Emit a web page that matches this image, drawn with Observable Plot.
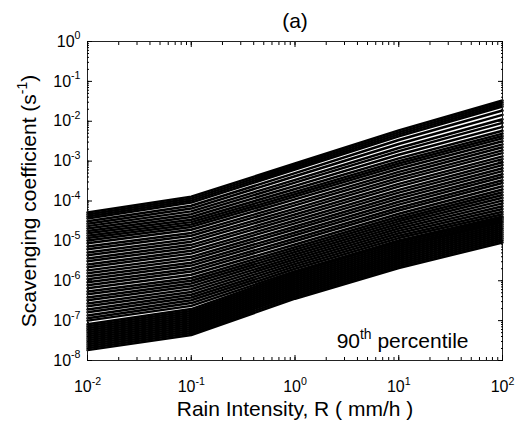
<!DOCTYPE html>
<html>
<head>
<meta charset="utf-8">
<script src="https://cdn.jsdelivr.net/npm/d3@7"></script>
<script src="https://cdn.jsdelivr.net/npm/@observablehq/plot@0.6"></script>
<style>
  html, body { margin: 0; padding: 0; background: #fff; }
</style>
</head>
<body>
<div id="chart"></div>
<script>
// Rain intensity columns (mm/h) at which each curve is read
const rainIntensity = [0.01, 0.1, 1, 10, 100];

// log10 of scavenging coefficient (s^-1), one entry per curve, read at each rain intensity
const expAtR0_01 = [-4.29,-4.34,-4.39,-4.44,-4.51,-4.57,-4.63,-4.69,-4.75,-4.81,-4.87,-4.93,-4.99,-5.06,-5.14,-5.21,-5.29,-5.36,-5.44,-5.51,-5.59,-5.66,-5.74,-5.81,-5.89,-5.96,-6.04,-6.11,-6.19,-6.27,-6.34,-6.42,-6.49,-6.57,-6.64,-6.72,-6.79,-6.87,-6.94,-7.00,-7.09,-7.14,-7.19,-7.24,-7.29,-7.34,-7.39,-7.44,-7.49,-7.54,-7.59,-7.64,-7.69,-7.74];
const expAtR0_1  = [-3.89,-3.94,-3.99,-4.04,-4.12,-4.19,-4.26,-4.33,-4.40,-4.47,-4.53,-4.59,-4.65,-4.72,-4.80,-4.87,-4.95,-5.02,-5.10,-5.17,-5.25,-5.32,-5.40,-5.47,-5.55,-5.62,-5.70,-5.77,-5.85,-5.93,-6.00,-6.07,-6.14,-6.21,-6.28,-6.35,-6.42,-6.49,-6.56,-6.63,-6.71,-6.76,-6.81,-6.86,-6.91,-6.96,-7.01,-7.06,-7.11,-7.16,-7.21,-7.26,-7.31,-7.36];
const expAtR1    = [-3.06,-3.11,-3.16,-3.21,-3.30,-3.38,-3.47,-3.54,-3.62,-3.70,-3.77,-3.83,-3.89,-3.96,-4.04,-4.11,-4.19,-4.26,-4.34,-4.41,-4.49,-4.56,-4.64,-4.71,-4.79,-4.86,-4.94,-5.01,-5.09,-5.16,-5.22,-5.28,-5.34,-5.40,-5.46,-5.52,-5.58,-5.64,-5.70,-5.76,-5.80,-5.85,-5.90,-5.95,-6.00,-6.05,-6.10,-6.15,-6.20,-6.25,-6.30,-6.35,-6.40,-6.45];
const expAtR10   = [-2.23,-2.28,-2.33,-2.38,-2.47,-2.57,-2.67,-2.75,-2.84,-2.93,-3.00,-3.06,-3.12,-3.19,-3.27,-3.34,-3.42,-3.49,-3.57,-3.64,-3.72,-3.79,-3.87,-3.94,-4.02,-4.09,-4.17,-4.24,-4.32,-4.39,-4.45,-4.51,-4.57,-4.63,-4.69,-4.75,-4.81,-4.87,-4.93,-4.99,-5.03,-5.08,-5.13,-5.18,-5.23,-5.28,-5.33,-5.38,-5.43,-5.48,-5.53,-5.58,-5.63,-5.68];
const expAtR100  = [-1.48,-1.53,-1.58,-1.63,-1.73,-1.84,-1.95,-2.04,-2.14,-2.24,-2.31,-2.37,-2.43,-2.50,-2.58,-2.65,-2.73,-2.80,-2.88,-2.95,-3.03,-3.10,-3.18,-3.25,-3.33,-3.40,-3.48,-3.55,-3.63,-3.71,-3.78,-3.85,-3.92,-3.99,-4.06,-4.13,-4.20,-4.27,-4.33,-4.39,-4.42,-4.46,-4.50,-4.54,-4.59,-4.64,-4.69,-4.74,-4.79,-4.84,-4.89,-4.94,-4.99,-5.04];

// Axis ticks and labels
const xTickValues = [0.01, 0.1, 1, 10, 100];
const xTickLabels = ["10{-2}", "10{-1}", "10{0}", "10{1}", "10{2}"];
const yTickValues = [1e-8, 1e-7, 1e-6, 1e-5, 1e-4, 1e-3, 1e-2, 1e-1, 1];
const yTickLabels = ["10{-8}", "10{-7}", "10{-6}", "10{-5}", "10{-4}", "10{-3}", "10{-2}", "10{-1}", "10{0}"];

const titleText = "(a)";
const xLabel = "Rain Intensity, R ( mm/h )";
const yLabel = "Scavenging coefficient (s{-1})";
const noteText = "90{th} percentile";

// Build the long table
const columns = [expAtR0_01, expAtR0_1, expAtR1, expAtR10, expAtR100];
const rows = [];
for (let i = 0; i < expAtR0_01.length; i++) {
  columns.forEach((col, j) => rows.push({id: i, R: rainIntensity[j], k: Math.pow(10, col[i])}));
}

const xMinor = d3.scaleLog().domain([0.01, 100]).ticks();
const yMinor = d3.scaleLog().domain([1e-8, 1]).ticks();
const blank = () => "";

const chart = Plot.plot({
  width: 516,
  height: 424,
  marginLeft: 87,
  marginRight: 14,
  marginTop: 41,
  marginBottom: 64,
  style: {fontFamily: "'Liberation Sans', Arial, sans-serif", fontSize: "16px", background: "#fff", color: "#000"},
  x: {type: "log", domain: [0.01, 100]},
  y: {type: "log", domain: [1e-8, 1]},
  marks: [
    Plot.line(rows, {x: "R", y: "k", z: "id", stroke: "#000", strokeWidth: 2.5}),
    Plot.frame({stroke: "#222", strokeWidth: 1}),
    // minor ticks, inward, all four sides
    Plot.axisX({anchor: "bottom", ticks: xMinor, tickSize: -3, tickFormat: blank, label: null}),
    Plot.axisX({anchor: "top", ticks: xMinor, tickSize: -3, tickFormat: blank, label: null}),
    Plot.axisY({anchor: "left", ticks: yMinor, tickSize: -2, tickFormat: blank, label: null}),
    Plot.axisY({anchor: "right", ticks: yMinor, tickSize: -2, tickFormat: blank, label: null}),
    // major ticks, inward
    Plot.axisX({anchor: "bottom", ticks: xTickValues, tickSize: -5, tickFormat: blank, label: null}),
    Plot.axisX({anchor: "top", ticks: xTickValues, tickSize: -5, tickFormat: blank, label: null}),
    Plot.axisY({anchor: "left", ticks: yTickValues, tickSize: -5, tickFormat: blank, label: null}),
    Plot.axisY({anchor: "right", ticks: yTickValues, tickSize: -5, tickFormat: blank, label: null}),
    // tick labels
    Plot.axisX({anchor: "bottom", ticks: xTickValues, tickSize: 0, tickPadding: 20, fontSize: 16,
      tickFormat: (d) => xTickLabels[xTickValues.indexOf(d)], label: null}),
    Plot.axisY({anchor: "left", ticks: yTickValues, tickSize: 0, tickPadding: 7, fontSize: 16,
      tickFormat: (d) => yTickLabels[yTickValues.indexOf(d)], label: null}),
    // texts
    Plot.text([titleText], {text: (d) => d, frameAnchor: "top", lineAnchor: "middle", dy: -20, fontSize: 21}),
    Plot.text([xLabel], {text: (d) => d, frameAnchor: "bottom", lineAnchor: "middle", dy: 49, fontSize: 21}),
    Plot.text([yLabel], {text: (d) => d, frameAnchor: "left", textAnchor: "middle", lineAnchor: "middle", dx: -58, rotate: -90, fontSize: 21}),
    Plot.text([noteText], {text: (d) => d, frameAnchor: "bottom-right", textAnchor: "end", lineAnchor: "middle", dx: -34, dy: -19, fontSize: 21})
  ]
});

document.getElementById("chart").appendChild(chart);

// Remove empty tick-label texts left by the tick-only axes
chart.querySelectorAll("text").forEach((t) => { if (t.textContent === "") t.remove(); });

// Render {..} segments as superscripts
const SVGNS = "http://www.w3.org/2000/svg";
chart.querySelectorAll("text").forEach((t) => {
  const s = t.textContent;
  if (!s.includes("{")) return;
  const fs = parseFloat(getComputedStyle(t).fontSize) || 16;
  while (t.firstChild) t.removeChild(t.firstChild);
  const parts = s.split(/(\{[^}]*\})/).filter((p) => p.length);
  const shift = fs * 0.45;
  let raised = false;
  parts.forEach((p) => {
    const ts = document.createElementNS(SVGNS, "tspan");
    if (p.startsWith("{")) {
      ts.textContent = p.slice(1, -1);
      ts.setAttribute("font-size", (fs * 0.66).toFixed(1));
      ts.setAttribute("dy", (-shift).toFixed(1));
      raised = true;
    } else {
      ts.textContent = p;
      if (raised) { ts.setAttribute("dy", shift.toFixed(1)); raised = false; }
    }
    t.appendChild(ts);
  });
});
</script>
</body>
</html>
